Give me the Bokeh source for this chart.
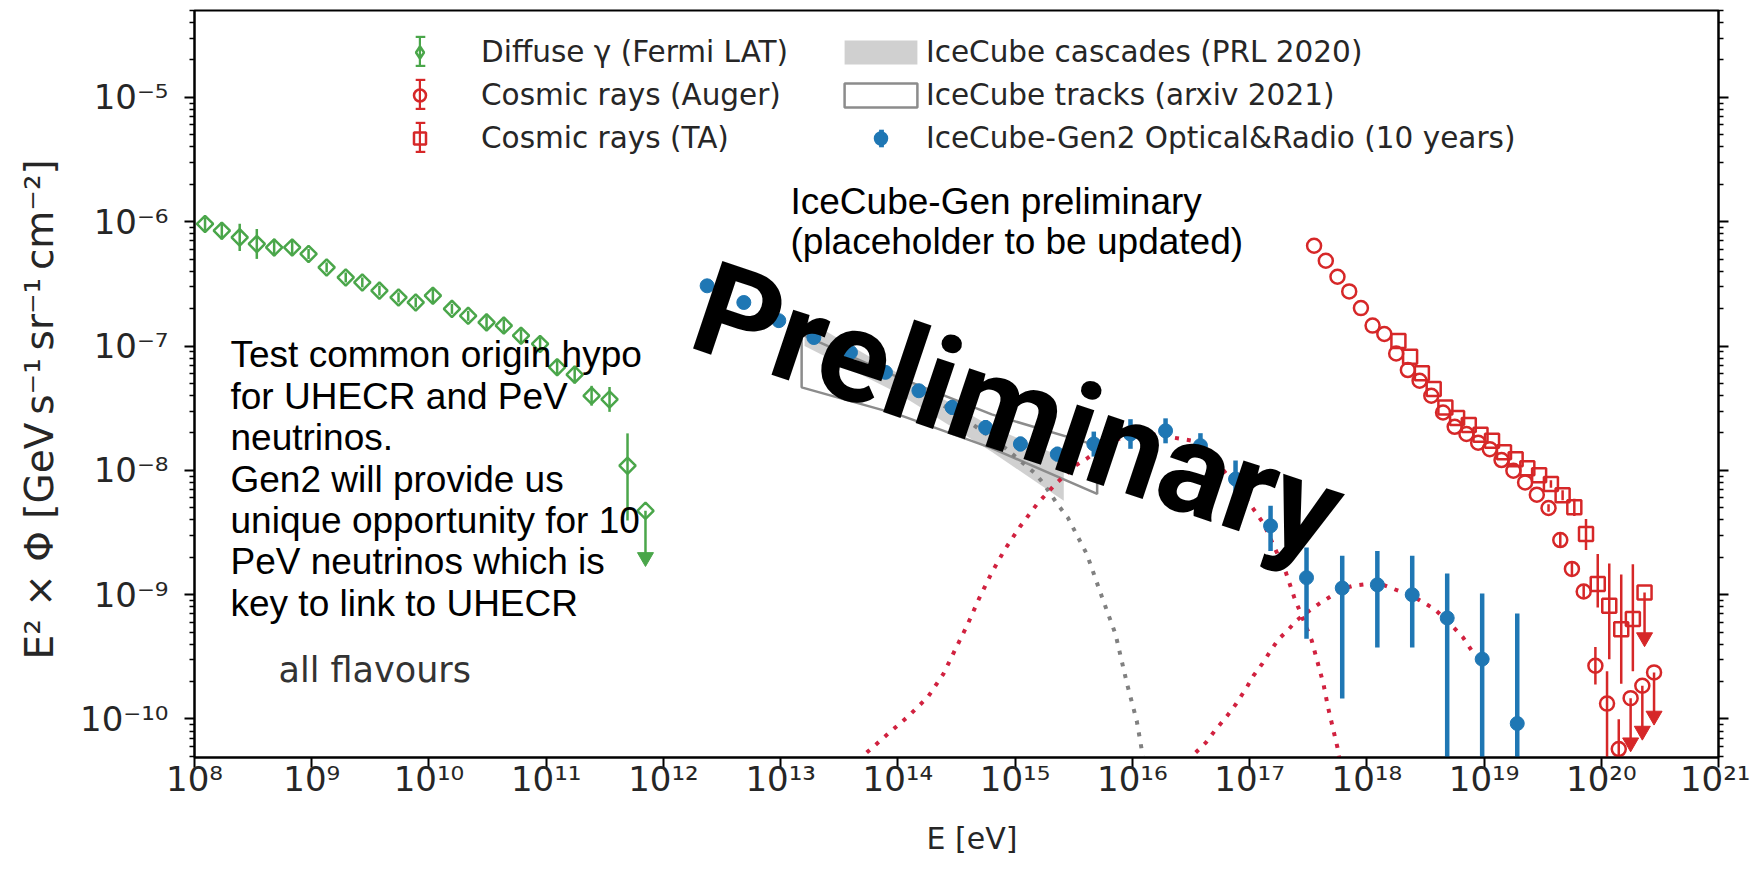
import numpy as np
from bokeh.plotting import figure
from bokeh.models import (Range1d, FixedTicker, CustomJSTickFormatter, LogAxis, Label, Title,
                          Legend, LegendItem, ColumnDataSource)
from bokeh.embed import file_html
from bokeh.resources import INLINE

# ---------------- data ----------------
# Diffuse gamma rays (Fermi LAT)
fermi_E = [1.23e8, 1.71e8, 2.43e8, 3.40e8, 4.78e8, 6.81e8, 9.40e8, 1.34e9, 1.95e9, 2.70e9,
           3.78e9, 5.50e9, 7.71e9, 1.08e10, 1.57e10, 2.16e10, 3.10e10, 4.35e10, 6.10e10, 8.87e10,
           1.24e11, 1.75e11, 2.44e11, 3.47e11, 4.94e11]
fermi_flux = [9.59e-7, 8.47e-7, 7.48e-7, 6.62e-7, 6.21e-7, 6.21e-7, 5.50e-7, 4.29e-7, 3.56e-7, 3.25e-7,
              2.79e-7, 2.46e-7, 2.24e-7, 2.54e-7, 1.99e-7, 1.75e-7, 1.55e-7, 1.46e-7, 1.21e-7, 1.04e-7,
              6.76e-8, 5.89e-8, 3.98e-8, 3.72e-8, 1.09e-8]
fermi_dex_lo = [0.05, 0.07, 0.11, 0.12, 0.07, 0.06, 0.04, 0.04, 0.04, 0.04, 0.04, 0.04, 0.04, 0.06,
                0.04, 0.04, 0.05, 0.05, 0.05, 0.05, 0.06, 0.07, 0.08, 0.10, 0.44]
fermi_dex_hi = [0.05, 0.07, 0.11, 0.12, 0.07, 0.06, 0.04, 0.04, 0.04, 0.04, 0.04, 0.04, 0.04, 0.06,
                0.04, 0.04, 0.05, 0.05, 0.05, 0.05, 0.06, 0.07, 0.08, 0.10, 0.26]
fermi_ul_E = [7.03e11]
fermi_ul_flux = [4.73e-9]
fermi_ul_end = [2.0e-9]

# Cosmic rays (Auger)
auger_E = [3.55e17, 4.47e17, 5.62e17, 7.08e17, 8.91e17, 1.12e18, 1.41e18, 1.78e18, 2.24e18, 2.82e18,
           3.55e18, 4.47e18, 5.62e18, 7.08e18, 8.91e18, 1.12e19, 1.41e19, 1.78e19, 2.24e19, 2.82e19,
           3.55e19, 4.47e19, 5.62e19, 7.08e19, 8.91e19, 1.12e20, 1.41e20]
auger_flux = [6.41e-7, 4.85e-7, 3.61e-7, 2.75e-7, 2.02e-7, 1.46e-7, 1.25e-7, 8.71e-8, 6.41e-8, 5.26e-8,
              3.98e-8, 2.92e-8, 2.24e-8, 1.96e-8, 1.67e-8, 1.48e-8, 1.21e-8, 9.93e-9, 8.00e-9, 6.37e-9,
              4.98e-9, 2.75e-9, 1.61e-9, 1.06e-9, 2.68e-10, 1.33e-10, 5.73e-11]
auger_dex_lo = [0, 0, 0, 0, 0, 0, 0, 0, 0, 0, 0, 0, 0, 0, 0, 0, 0, 0, 0, 0,
                0.03, 0.05, 0.05, 0.05, 0.15, 1.0, 1.0]
auger_dex_hi = [0, 0, 0, 0, 0, 0, 0, 0, 0, 0, 0, 0, 0, 0, 0, 0, 0, 0, 0, 0,
                0.03, 0.05, 0.05, 0.05, 0.15, 0.26, 0.24]
auger_ul_E = [1.78e20, 2.24e20, 2.82e20]
auger_ul_flux = [1.47e-10, 1.85e-10, 2.37e-10]
auger_ul_end = [6.46e-11, 8.02e-11, 1.06e-10]

# Cosmic rays (TA)
ta_E = [1.86e18, 2.34e18, 2.95e18, 3.72e18, 4.68e18, 5.89e18, 7.41e18, 9.33e18, 1.17e19, 1.48e19,
        1.86e19, 2.34e19, 2.95e19, 3.72e19, 4.68e19, 5.89e19, 7.41e19, 9.33e19, 1.17e20, 1.48e20, 1.86e20]
ta_flux = [1.10e-7, 8.20e-8, 6.03e-8, 4.51e-8, 3.21e-8, 2.64e-8, 2.32e-8, 1.93e-8, 1.73e-8, 1.40e-8,
           1.23e-8, 1.04e-8, 9.12e-9, 7.76e-9, 6.31e-9, 5.04e-9, 3.08e-9, 1.22e-9, 8.13e-10, 5.28e-10, 6.37e-10]
ta_dex_lo = [0, 0, 0, 0, 0, 0, 0, 0, 0, 0, 0, 0, 0,
             0.03, 0.04, 0.07, 0.13, 0.19, 0.43, 0.44, 0.42]
ta_dex_hi = [0, 0, 0, 0, 0, 0, 0, 0, 0, 0, 0, 0, 0,
             0.03, 0.04, 0.07, 0.12, 0.24, 0.34, 0.44, 0.44]
ta_ul_E = [2.34e20]
ta_ul_flux = [1.04e-9]
ta_ul_end = [4.53e-10]

# IceCube-Gen2 Optical&Radio (10 years)
gen2_E = [2.36e12, 4.85e12, 9.64e12, 1.92e13, 3.94e13, 7.83e13, 1.51e14, 2.90e14, 5.60e14, 1.11e15,
          2.29e15, 4.69e15, 9.64e15, 1.92e16, 3.81e16, 7.59e16, 1.51e17, 3.06e17, 6.17e17, 1.23e18,
          2.44e18, 4.85e18, 9.64e18, 1.92e19]
gen2_flux = [3.05e-7, 2.24e-7, 1.60e-7, 1.17e-7, 8.89e-8, 6.14e-8, 4.37e-8, 3.21e-8, 2.21e-8, 1.63e-8,
             1.35e-8, 1.63e-8, 1.96e-8, 2.08e-8, 1.58e-8, 8.51e-9, 3.58e-9, 1.37e-9, 1.13e-9, 1.20e-9,
             9.98e-10, 6.49e-10, 3.03e-10, 9.20e-11]
gen2_hi = [3.42e-7, 2.51e-7, 1.80e-7, 1.31e-7, 9.97e-8, 6.89e-8, 4.90e-8, 3.69e-8, 2.54e-8, 1.87e-8,
           1.55e-8, 2.05e-8, 2.58e-8, 2.62e-8, 1.99e-8, 1.20e-8, 5.19e-9, 2.40e-9, 2.06e-9, 2.25e-9,
           2.06e-9, 1.48e-9, 1.02e-9, 7.06e-10]
gen2_lo = [2.72e-7, 2.00e-7, 1.43e-7, 1.04e-7, 7.92e-8, 5.47e-8, 3.89e-8, 2.80e-8, 1.92e-8, 1.42e-8,
           1.18e-8, 1.29e-8, 1.49e-8, 1.65e-8, 1.26e-8, 6.03e-9, 2.25e-9, 4.42e-10, 1.46e-10, 3.76e-10,
           3.76e-10, 1.0e-11, 1.0e-11, 1.0e-11]

# IceCube cascades (PRL 2020) band
casc_E = [1.6e13, 1.0e14, 6.31e14, 2.6e15]
casc_upper = [1.66e-7, 6.03e-8, 2.24e-8, 1.26e-8]
casc_lower = [1.00e-7, 4.17e-8, 1.41e-8, 5.69e-9]

# IceCube tracks (arxiv 2021) band
track_E = [1.51e13, 1.0e14, 6.31e14, 5.01e15]
track_upper = [1.24e-7, 5.62e-8, 2.82e-8, 1.58e-8]
track_lower = [4.65e-8, 2.82e-8, 1.51e-8, 6.46e-9]

# model curves (dotted)
gray_E = [2.47e14, 3.90e14, 7.50e14, 1.45e15, 1.72e15, 2.29e15, 2.81e15, 4.09e15, 5.52e15, 7.18e15,
          9.02e15, 1.09e16, 1.22e16, 1.29e16]
gray_flux = [3.31e-8, 2.51e-8, 1.63e-8, 9.62e-9, 8.00e-9, 5.36e-9, 4.18e-9, 2.12e-9, 9.51e-10, 4.82e-10,
             1.91e-10, 9.68e-11, 5.22e-11, 3.5e-11]

redA_E = [5.42e13, 8.20e13, 1.24e14, 1.81e14, 2.44e14, 3.10e14, 3.92e14, 4.91e14, 6.24e14, 8.13e14,
          1.10e15, 1.54e15, 2.21e15, 3.26e15, 4.17e15, 6.76e15, 1.26e16, 3.16e16, 5.89e16, 9.55e16,
          1.32e17, 2.04e17, 2.40e17, 3.39e17, 4.27e17, 4.68e17, 5.62e17, 6.03e17]
redA_flux = [5.37e-11, 7.57e-11, 1.06e-10, 1.51e-10, 2.30e-10, 3.65e-10, 5.73e-10, 9.23e-10, 1.47e-9, 2.29e-9,
             3.52e-9, 5.36e-9, 7.76e-9, 1.09e-8, 1.26e-8, 1.74e-8, 2.00e-8, 1.74e-8, 1.02e-8, 5.75e-9,
             3.72e-9, 1.51e-9, 9.55e-10, 4.27e-10, 1.91e-10, 1.23e-10, 5.89e-11, 3.98e-11]

redB_E = [3.47e16, 4.24e16, 5.05e16, 6.44e16, 7.66e16, 9.44e16, 1.08e17, 1.29e17, 1.48e17, 1.77e17,
          2.10e17, 2.50e17, 3.08e17, 3.94e17, 5.02e17, 6.18e17, 7.64e17, 1.01e18, 1.38e18, 1.88e18,
          2.58e18, 3.78e18, 5.18e18, 6.61e18, 7.87e18]
redB_flux = [5.37e-11, 6.46e-11, 8.04e-11, 1.06e-10, 1.32e-10, 1.79e-10, 2.23e-10, 2.80e-10, 3.43e-10, 4.40e-10,
             5.13e-10, 6.17e-10, 7.19e-10, 8.49e-10, 9.79e-10, 1.11e-9, 1.18e-9, 1.22e-9, 1.20e-9, 1.07e-9,
             9.48e-10, 7.66e-10, 5.79e-10, 4.53e-10, 3.53e-10]

x_tick_exponents = list(range(8, 22))
y_tick_exponents = list(range(-10, -4))

legend_labels_left = ["Diffuse \u03b3 (Fermi LAT)", "Cosmic rays (Auger)", "Cosmic rays (TA)"]
legend_labels_right = ["IceCube cascades (PRL 2020)", "IceCube tracks (arxiv 2021)",
                       "IceCube-Gen2 Optical&Radio (10 years)"]
note_lines = ["Test common origin hypo", "for UHECR and PeV", "neutrinos.", "Gen2 will provide us",
              "unique opportunity for 10", "PeV neutrinos which is", "key to link to UHECR"]
x_title = "E [eV]"
y_title = "E\u00b2 \u00d7 \u03a6 [GeV\u2009s\u207b\u00b9\u2009sr\u207b\u00b9\u2009cm\u207b\u00b2]"

# ---------------- styling ----------------
GREEN = "#4aa64a"
RED = "#d62728"
BLUE = "#1f77b4"
CRIMSON = "#d1213f"
GRAY = "#808080"
TXT = "#262626"

p = figure(width=1750, height=880, x_axis_type="log", y_axis_type="log",
           x_range=Range1d(1e8, 1e21), y_range=Range1d(4.9e-11, 5.0e-5),
           output_backend="svg", toolbar_location=None, title=None,
           min_border_left=194, min_border_right=32, min_border_top=10, min_border_bottom=123,
           background_fill_color="white", border_fill_color="white")
p.grid.visible = False
p.outline_line_color = "black"
p.outline_line_width = 2

sup_js = """
const e = Math.round(Math.log10(tick));
const m = {'-':'\\u207B','0':'\\u2070','1':'\\u00B9','2':'\\u00B2','3':'\\u00B3','4':'\\u2074',
           '5':'\\u2075','6':'\\u2076','7':'\\u2077','8':'\\u2078','9':'\\u2079'};
return '10' + String(e).split('').map(c => m[c]).join('');
"""
xticker = FixedTicker(ticks=[10.0 ** k for k in x_tick_exponents], minor_ticks=[])
yticker = FixedTicker(ticks=[10.0 ** k for k in y_tick_exponents],
                      minor_ticks=[m * 10.0 ** k for k in range(-11, -4) for m in range(2, 10)])
x_axis = p.xaxis[0]
y_axis = p.yaxis[0]
x_axis.ticker = xticker
y_axis.ticker = yticker
x_axis.formatter = CustomJSTickFormatter(code=sup_js)
y_axis.formatter = CustomJSTickFormatter(code=sup_js)

right_axis = LogAxis(ticker=yticker, formatter=CustomJSTickFormatter(code="return '';"))
p.add_layout(right_axis, "right")

for ax in [x_axis, y_axis, right_axis]:
    ax.axis_line_width = 2
    ax.axis_line_color = "black"
    ax.major_tick_line_width = 2
    ax.major_tick_out = 10
    ax.major_tick_in = 0
    ax.minor_tick_line_width = 1.5
    ax.minor_tick_out = 5
    ax.minor_tick_in = 0
    ax.major_label_text_font = "DejaVu Sans"
    ax.major_label_text_font_size = "34px"
    ax.major_label_text_color = TXT
x_axis.major_label_standoff = -9
y_axis.major_label_standoff = 16
right_axis.major_label_standoff = 0
right_axis.major_label_text_font_size = "1px"

p.add_layout(Title(text=y_title, align="left", offset=98, vertical_align="top", standoff=28,
                   text_font="DejaVu Sans", text_font_size="39px", text_font_style="normal",
                   text_color=TXT), "left")
p.add_layout(Title(text=x_title, align="left", offset=732, vertical_align="top", standoff=38,
                   text_font="DejaVu Sans", text_font_size="30px", text_font_style="normal",
                   text_color=TXT), "below")


def bar_src(E, f, dlo, dhi):
    E = np.array(E, dtype=float)
    f = np.array(f, dtype=float)
    return ColumnDataSource(dict(x=E, y0=f * 10 ** (-np.array(dlo, dtype=float)),
                                 y1=f * 10 ** np.array(dhi, dtype=float)))


# bands
r_casc = p.varea(x=casc_E, y1=casc_lower, y2=casc_upper, fill_color="#c8c8c8", fill_alpha=0.85)
track_px = list(track_E) + list(track_E)[::-1]
track_py = list(track_upper) + list(track_lower)[::-1]
r_track = p.patch(track_px, track_py, fill_color="white", fill_alpha=0.0,
                  line_color="#8c8c8c", line_width=2.5)

# model curves
p.line(gray_E, gray_flux, line_color=GRAY, line_width=4, line_dash="4 8")
p.line(redA_E, redA_flux, line_color=CRIMSON, line_width=4, line_dash="4 8")
p.line(redB_E, redB_flux, line_color=CRIMSON, line_width=4, line_dash="4 8")

# Fermi
p.segment(x0="x", y0="y0", x1="x", y1="y1", source=bar_src(fermi_E, fermi_flux, fermi_dex_lo, fermi_dex_hi),
          line_color=GREEN, line_width=2.5)
p.scatter(fermi_E, fermi_flux, marker="square", angle=np.pi / 4, size=11.5, fill_alpha=0,
          line_color=GREEN, line_width=2.5)
p.segment(x0=fermi_ul_E, y0=fermi_ul_flux, x1=fermi_ul_E, y1=fermi_ul_end, line_color=GREEN, line_width=2.5)
p.scatter(fermi_ul_E, fermi_ul_flux, marker="square", angle=np.pi / 4, size=11.5, fill_alpha=0,
          line_color=GREEN, line_width=2.5)
p.scatter(fermi_ul_E, fermi_ul_end, marker="inverted_triangle", size=16, fill_color=GREEN, line_color=GREEN)

# Auger
p.segment(x0="x", y0="y0", x1="x", y1="y1", source=bar_src(auger_E, auger_flux, auger_dex_lo, auger_dex_hi),
          line_color=RED, line_width=2.5)
p.scatter(auger_E, auger_flux, marker="circle", size=14, fill_alpha=0, line_color=RED, line_width=2.5)
p.segment(x0=auger_ul_E, y0=auger_ul_flux, x1=auger_ul_E, y1=auger_ul_end, line_color=RED, line_width=2.5)
p.scatter(auger_ul_E, auger_ul_flux, marker="circle", size=14, fill_alpha=0, line_color=RED, line_width=2.5)
p.scatter(auger_ul_E, auger_ul_end, marker="inverted_triangle", size=16, fill_color=RED, line_color=RED)

# TA
p.segment(x0="x", y0="y0", x1="x", y1="y1", source=bar_src(ta_E, ta_flux, ta_dex_lo, ta_dex_hi),
          line_color=RED, line_width=2.5)
p.scatter(ta_E, ta_flux, marker="square", size=14, fill_alpha=0, line_color=RED, line_width=2.5)
p.segment(x0=ta_ul_E, y0=ta_ul_flux, x1=ta_ul_E, y1=ta_ul_end, line_color=RED, line_width=2.5)
p.scatter(ta_ul_E, ta_ul_flux, marker="square", size=14, fill_alpha=0, line_color=RED, line_width=2.5)
p.scatter(ta_ul_E, ta_ul_end, marker="inverted_triangle", size=16, fill_color=RED, line_color=RED)

# Gen2
p.segment(x0=gen2_E, y0=gen2_lo, x1=gen2_E, y1=gen2_hi, line_color=BLUE, line_width=4.5)
p.scatter(gen2_E, gen2_flux, marker="circle", size=14, fill_color=BLUE, line_color=BLUE)

# ---------------- legend ----------------
# legend-only handles: a single NaN point, so nothing is drawn inside the plot
nan = [float("nan")]


def handle_marker(marker, color, filled):
    return p.scatter(x=nan, y=nan, marker=marker, size=12, fill_color=color,
                     fill_alpha=1.0 if filled else 0.0, line_color=color, line_width=2.5)


def handle_bar(color):
    return p.vbar(x=nan, top=nan, width=1, fill_color=color, line_color=None)


m_fermi = handle_marker("diamond", GREEN, False)
m_auger = handle_marker("circle", RED, False)
m_ta = handle_marker("square", RED, False)
m_gen2 = handle_marker("circle", BLUE, True)
b_fermi, b_auger, b_ta, b_gen2 = handle_bar(GREEN), handle_bar(RED), handle_bar(RED), handle_bar(BLUE)

leg_style = dict(orientation="vertical", glyph_width=91, glyph_height=30, label_height=30,
                 spacing=9, padding=0, margin=0, border_line_color=None, background_fill_alpha=0,
                 label_text_font="DejaVu Sans", label_text_font_size="29.5px", label_text_color=TXT)
leg1 = Legend(items=[LegendItem(label=legend_labels_left[0], renderers=[m_fermi]),
                     LegendItem(label=legend_labels_left[1], renderers=[m_auger]),
                     LegendItem(label=legend_labels_left[2], renderers=[m_ta])],
              location=(180, 602), label_standoff=16, **leg_style)
leg2 = Legend(items=[LegendItem(label=legend_labels_right[0], renderers=[r_casc]),
                     LegendItem(label=legend_labels_right[1], renderers=[r_track]),
                     LegendItem(label=legend_labels_right[2], renderers=[m_gen2])],
              location=(641, 602), label_standoff=0, **leg_style)

# error-bar parts of the legend handles (narrow glyph boxes, no text)
hstyle = dict(orientation="vertical", padding=0, margin=0, border_line_color=None, background_fill_alpha=0,
              label_text_font_size="1px", label_height=0, label_width=0, label_standoff=0)
leg_bars = Legend(items=[LegendItem(label=" ", renderers=[b_fermi]),
                         LegendItem(label=" ", renderers=[b_auger]),
                         LegendItem(label=" ", renderers=[b_ta])],
                  glyph_width=3, glyph_height=37, spacing=6, location=(224, 601.5), **hstyle)
leg_caps_top = Legend(items=[LegendItem(label=" ", renderers=[b_fermi]),
                             LegendItem(label=" ", renderers=[b_auger]),
                             LegendItem(label=" ", renderers=[b_ta])],
                      glyph_width=12, glyph_height=3, spacing=40, location=(219.5, 633.3), **hstyle)
leg_caps_bot = Legend(items=[LegendItem(label=" ", renderers=[b_fermi]),
                             LegendItem(label=" ", renderers=[b_auger]),
                             LegendItem(label=" ", renderers=[b_ta])],
                      glyph_width=12, glyph_height=3, spacing=40, location=(219.5, 603.7), **hstyle)
leg_bar_gen2 = Legend(items=[LegendItem(label=" ", renderers=[b_gen2])],
                      glyph_width=6, glyph_height=22, spacing=0, location=(683.5, 608.4), **hstyle)
for lg in [leg1, leg2, leg_bars, leg_caps_top, leg_caps_bot, leg_bar_gen2]:
    p.add_layout(lg)

# ---------------- texts ----------------
def lab(text, x, y, **kw):
    opts = dict(x_units="screen", y_units="screen", text_baseline="middle", text_align="left")
    opts.update(kw)
    p.add_layout(Label(x=x, y=y, text=text, **opts))


for i, line in enumerate(note_lines):
    lab(line, 36, 402.7 - 41.4 * i, text_font="Liberation Sans", text_font_size="37px", text_color="black")
lab("all flavours", 84, 88, text_font="DejaVu Sans", text_font_size="35px", text_color="#333333")
lab("IceCube-Gen preliminary", 596, 556, text_font="Liberation Sans", text_font_size="37px",
    text_color="black")
lab("(placeholder to be updated)", 596, 516.5, text_font="Liberation Sans", text_font_size="37px",
    text_color="black")
lab("Preliminary", 824, 347, angle=-0.323, text_align="center", text_font="Roboto",
    text_font_style="bold", text_font_size="130px", text_color="black")

with open("out.html", "w", encoding="utf-8") as fh:
    fh.write(file_html(p, INLINE))
